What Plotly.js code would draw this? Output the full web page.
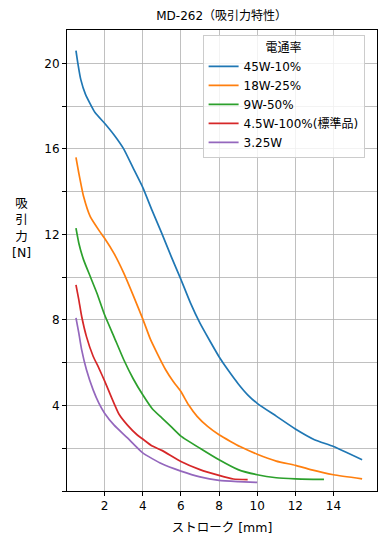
<!DOCTYPE html>
<html>
<head>
<meta charset="utf-8">
<script src="https://cdn.plot.ly/plotly-3.0.1.min.js"></script>
<style>
html,body{margin:0;padding:0;background:#fff;}
#chart{width:385px;height:545px;}
</style>
</head>
<body>
<div id="chart"></div>
<script>
const seriesNames = ["45W-10%", "18W-25%", "9W-50%", "4.5W-100%(標準品)", "3.25W"];
const seriesColors = ["#1f77b4", "#ff7f0e", "#2ca02c", "#d62728", "#9467bd"];

const x45 = [0.5, 0.6, 0.75, 1.0, 1.5, 2.0, 2.5, 3.0, 3.5, 4.0, 4.5, 5.0, 5.5, 6.0, 6.5, 7.0, 7.5, 8.0, 8.5, 9.0, 9.5, 10.0, 11.0, 12.0, 13.0, 14.0, 15.5];
const y45 = [20.6, 20.0, 19.25, 18.55, 17.7, 17.2, 16.65, 16.0, 15.1, 14.2, 13.1, 12.05, 10.95, 9.9, 8.8, 7.85, 7.05, 6.28, 5.62, 5.02, 4.5, 4.1, 3.5, 2.9, 2.4, 2.08, 1.46];

const x18 = [0.5, 0.65, 0.9, 1.25, 1.75, 2.0, 2.5, 3.0, 3.5, 4.0, 4.4, 4.75, 5.2, 5.6, 6.0, 6.4, 6.85, 7.4, 8.0, 8.6, 9.1, 10.0, 11.0, 12.0, 12.8, 14.0, 15.5];
const y18 = [15.6, 14.86, 13.77, 12.83, 12.13, 11.82, 11.1, 10.2, 9.15, 8.05, 7.1, 6.45, 5.67, 5.12, 4.65, 4.03, 3.49, 3.02, 2.63, 2.32, 2.08, 1.72, 1.4, 1.2, 1.0, 0.76, 0.57];

const x9 = [0.5, 0.65, 0.9, 1.25, 1.6, 2.0, 2.5, 3.0, 3.5, 4.0, 4.5, 5.0, 5.5, 6.0, 7.0, 8.0, 9.0, 10.0, 11.0, 12.0, 13.5];
const y9 = [12.29, 11.59, 10.81, 10.03, 9.25, 8.24, 7.2, 6.15, 5.25, 4.5, 3.85, 3.42, 3.0, 2.57, 2.0, 1.46, 1.0, 0.76, 0.62, 0.57, 0.54];

const x4_5 = [0.5, 0.65, 0.8, 1.05, 1.4, 1.7, 2.0, 2.35, 2.75, 3.2, 3.7, 4.0, 4.5, 5.0, 6.0, 7.0, 8.0, 8.75, 9.5];
const y4_5 = [9.64, 8.94, 8.16, 7.22, 6.3, 5.75, 5.15, 4.4, 3.6, 3.08, 2.63, 2.43, 2.1, 1.9, 1.38, 1.0, 0.73, 0.56, 0.53];

const x3_25 = [0.5, 0.65, 0.8, 1.05, 1.4, 1.7, 2.0, 2.5, 3.2, 4.0, 5.0, 6.0, 7.0, 8.0, 9.0, 10.0];
const y3_25 = [8.1, 7.38, 6.6, 5.67, 4.73, 4.11, 3.64, 3.08, 2.48, 1.78, 1.27, 0.93, 0.66, 0.5, 0.44, 0.40];

const xTickVals = [2, 4, 6, 8, 10, 12, 14];
const xTickText = ["2", "4", "6", "8", "10", "12", "14"];
const yTickVals = [0, 2, 4, 6, 8, 10, 12, 14, 16, 18, 20];
const yTickText = ["", "", "4", "", "8", "", "12", "", "16", "", "20"];

const chartTitle = "MD-262（吸引力特性）";
const xTitle = "ストローク [mm]";
const yTitle = "吸<br>引<br>力<br>[N]";
const legendTitle = "電通率";

const FONT = "DejaVu Sans, 'Noto Sans CJK JP', sans-serif";

const xs = [x45, x18, x9, x4_5, x3_25];
const ys = [y45, y18, y9, y4_5, y3_25];
const traces = xs.map((x, i) => ({
  type: "scatter",
  mode: "lines",
  x: x,
  y: ys[i],
  name: seriesNames[i],
  line: {color: seriesColors[i], width: 1.7, shape: "spline", smoothing: 0.5}
}));

const W = 385, H = 545;
const ml = 66.7, mr = 8.3, mt = 30, mb = 53.7;
const pw = W - ml - mr, ph = H - mt - mb;

const layout = {
  width: W, height: H,
  margin: {l: ml, r: mr, t: mt, b: mb, pad: 0},
  paper_bgcolor: "#ffffff",
  plot_bgcolor: "#ffffff",
  font: {family: FONT, size: 12, color: "#000000"},
  title: {
    text: chartTitle,
    font: {family: FONT, size: 12, color: "#000000"},
    x: (ml + pw / 2) / W, xanchor: "center", xref: "container",
    y: 1 - 16 / H, yanchor: "middle", yref: "container"
  },
  xaxis: {
    range: [0.03, 16.28],
    tickmode: "array", tickvals: xTickVals, ticktext: xTickText,
    ticks: "outside", ticklen: 4, tickwidth: 1, tickcolor: "#000",
    showgrid: true, gridcolor: "#b0b0b0", gridwidth: 0.8,
    zeroline: false,
    showline: true, linecolor: "#000", linewidth: 1, mirror: true,
    tickfont: {family: FONT, size: 12},
    title: {text: xTitle, font: {family: FONT, size: 12.5}, standoff: 10}
  },
  yaxis: {
    range: [0, 21.56],
    tickmode: "array", tickvals: yTickVals, ticktext: yTickText,
    ticks: "outside", ticklen: 4, tickwidth: 1, tickcolor: "#000",
    showgrid: true, gridcolor: "#b0b0b0", gridwidth: 0.8,
    zeroline: false,
    showline: true, linecolor: "#000", linewidth: 1, mirror: true,
    tickfont: {family: FONT, size: 12}
  },
  legend: {
    title: {text: legendTitle, side: "top center", font: {family: FONT, size: 12}},
    x: (202.3 - ml) / pw, xanchor: "left",
    y: (H - mb - 35.3) / ph, yanchor: "top",
    bgcolor: "rgba(255,255,255,0.8)",
    bordercolor: "#cccccc", borderwidth: 1,
    font: {family: FONT, size: 12},
    itemwidth: 30
  },
  annotations: [{
    text: yTitle,
    xref: "paper", yref: "paper",
    x: (21.5 - ml) / pw, y: (H - mb - 228) / ph,
    xanchor: "center", yanchor: "middle",
    showarrow: false, align: "center",
    font: {family: FONT, size: 12.5, color: "#000"}
  }],
  showlegend: true
};

Plotly.newPlot("chart", traces, layout, {displayModeBar: false, staticPlot: true});
</script>
</body>
</html>
